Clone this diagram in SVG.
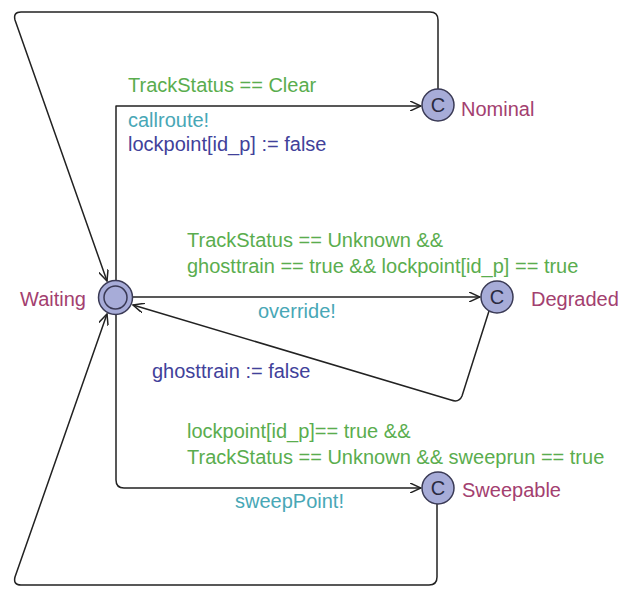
<svg xmlns="http://www.w3.org/2000/svg" width="619" height="591" viewBox="0 0 619 591">
<defs>
<style>
text{font-family:"Liberation Sans",Arial,sans-serif;font-size:20px}
.g{fill:#5aad4e}.s{fill:#48a7b6}.u{fill:#41419a}.n{fill:#a3406f}
.e{fill:none;stroke:#222;stroke-width:1.5;stroke-linejoin:round}
.loc{fill:#a7acd8;stroke:#3a3a55;stroke-width:1.5}
.c{font-size:20px;fill:#2a2a40;text-anchor:middle}
</style>
<marker id="ar" viewBox="0 0 12 10" refX="11" refY="5" markerWidth="12" markerHeight="10" markerUnits="userSpaceOnUse" orient="auto">
<path d="M0,0 L11,5 L0,10" fill="none" stroke="#222" stroke-width="1.5"/>
</marker>
</defs>
<rect width="619" height="591" fill="#fff"/>
<g id="connectors">
<path class="e" d="M438,89 V20 Q438,12 430,12 H21 Q13,12 15,20 L107,281" marker-end="url(#ar)"/>
<path class="e" d="M116,280 V106 H421" marker-end="url(#ar)"/>
<path class="e" d="M133,297 H480" marker-end="url(#ar)"/>
<path class="e" d="M489,311 L462,396 Q459,403 451,400 L133,305" marker-end="url(#ar)"/>
<path class="e" d="M116,314 V480 Q116,488 124,488 H421" marker-end="url(#ar)"/>
<path class="e" d="M437,504 V577 Q437,585 429,585 H21 Q13,585 15,577 L107,314" marker-end="url(#ar)"/>
</g>
<g id="Waiting">
<circle class="loc" cx="115.5" cy="297.5" r="17"/>
<circle class="loc" cx="115.5" cy="297.5" r="11.5"/>
<text class="n" x="20" y="306">Waiting</text>
</g>
<g id="Nominal">
<circle class="loc" cx="438" cy="105" r="16"/>
<text class="c" x="438" y="112">C</text>
<text class="n" x="461" y="116">Nominal</text>
</g>
<g id="Degraded">
<circle class="loc" cx="497" cy="297" r="16"/>
<text class="c" x="497" y="304">C</text>
<text class="n" x="531" y="306">Degraded</text>
</g>
<g id="Sweepable">
<circle class="loc" cx="438" cy="488" r="16"/>
<text class="c" x="438" y="495">C</text>
<text class="n" x="462" y="497">Sweepable</text>
</g>
<g id="labels">
<text class="g" x="128" y="92">TrackStatus == Clear</text>
<text class="s" x="128" y="127">callroute!</text>
<text class="u" x="128" y="151">lockpoint[id_p] := false</text>
<text class="g" x="187" y="247">TrackStatus == Unknown &amp;&amp;</text>
<text class="g" x="187" y="273">ghosttrain == true &amp;&amp; lockpoint[id_p] == true</text>
<text class="s" x="258" y="318">override!</text>
<text class="u" x="152" y="378">ghosttrain := false</text>
<text class="g" x="187" y="438">lockpoint[id_p]== true &amp;&amp;</text>
<text class="g" x="187" y="464">TrackStatus == Unknown &amp;&amp; sweeprun == true</text>
<text class="s" x="235" y="508">sweepPoint!</text>
</g>
</svg>
